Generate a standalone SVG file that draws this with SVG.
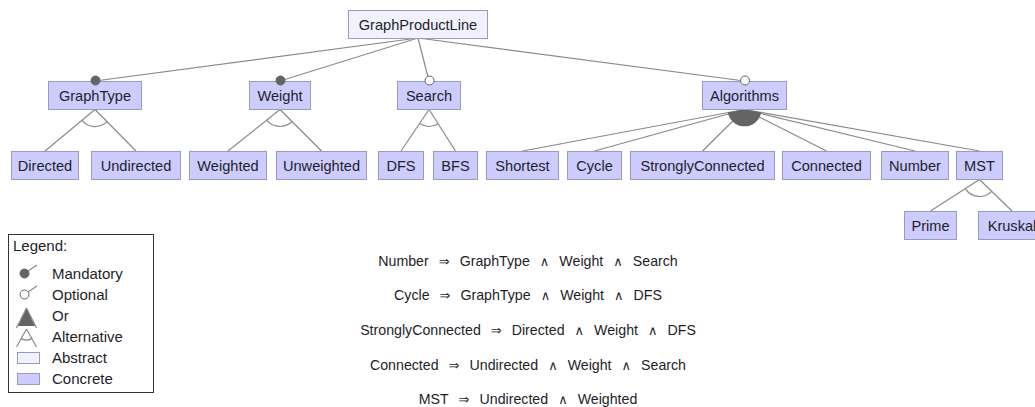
<svg xmlns="http://www.w3.org/2000/svg" width="1035" height="407" viewBox="0 0 1035 407">
  <style>
    text { font-family: "Liberation Sans", Arial, sans-serif; fill: #1e1e2a; }
    .label { font-size: 14.6px; text-anchor: middle; }
    .legend { font-size: 15px; }
    .rule { font-size: 14.2px; text-anchor: middle; }
    .op { font-size: 13px; font-family: "DejaVu Sans", sans-serif; }
    .concrete { fill: #ccccff; stroke: #9a9ac0; stroke-width: 1; }
    .abstract { fill: #f1f1ff; stroke: #9a9ac0; stroke-width: 1; }
    .edge { stroke: #8a8a8a; stroke-width: 1.2; fill: none; }
    .arc { stroke: #8a8a8a; stroke-width: 1.2; fill: none; }
    .mand { fill: #646464; stroke: #646464; stroke-width: 1; }
    .opt { fill: #ffffff; stroke: #646464; stroke-width: 1; }
    .orfill { fill: #646464; stroke: none; }
  </style>

  <!-- connectors -->
  <g id="connectors">
    <!-- root to first level -->
    <line class="edge" x1="418" y1="38" x2="95" y2="81"/>
    <line class="edge" x1="418" y1="38" x2="280" y2="81"/>
    <line class="edge" x1="418" y1="38" x2="429" y2="81"/>
    <line class="edge" x1="418" y1="38" x2="744.5" y2="81"/>
    <!-- GraphType alternative -->
    <line class="edge" x1="95" y1="109.5" x2="45" y2="151"/>
    <line class="edge" x1="95" y1="109.5" x2="136" y2="151"/>
    <path class="arc" d="M81.9,120.4 A17,17 0 0 0 107,121.6"/>
    <!-- Weight alternative -->
    <line class="edge" x1="280" y1="109.5" x2="228" y2="151"/>
    <line class="edge" x1="280" y1="109.5" x2="321.5" y2="151"/>
    <path class="arc" d="M266.7,120.1 A17,17 0 0 0 292,121.5"/>
    <!-- Search alternative -->
    <line class="edge" x1="429" y1="109.5" x2="401" y2="151"/>
    <line class="edge" x1="429" y1="109.5" x2="455.5" y2="151"/>
    <path class="arc" d="M419.5,123.6 A17,17 0 0 0 438.2,123.8"/>
    <!-- Algorithms or-group -->
    <line class="edge" x1="744.5" y1="109.5" x2="522.5" y2="151"/>
    <line class="edge" x1="744.5" y1="109.5" x2="594.5" y2="151"/>
    <line class="edge" x1="744.5" y1="109.5" x2="702.5" y2="151"/>
    <line class="edge" x1="744.5" y1="109.5" x2="826.5" y2="151"/>
    <line class="edge" x1="744.5" y1="109.5" x2="915" y2="151"/>
    <line class="edge" x1="744.5" y1="109.5" x2="979.5" y2="151"/>
    <path class="orfill" d="M744.5,109.5 L727.8,112.6 A17,17 0 0 0 761.2,112.5 Z"/>
    <!-- MST alternative -->
    <line class="edge" x1="979.5" y1="179.5" x2="930.5" y2="211"/>
    <line class="edge" x1="979.5" y1="179.5" x2="1012" y2="211"/>
    <path class="arc" d="M965.2,188.7 A17,17 0 0 0 991.7,191.3"/>
  </g>

  <!-- root -->
  <g id="GraphProductLine">
    <rect class="abstract" x="348.5" y="10.5" width="139" height="28"/>
    <text class="label" x="418" y="29.5">GraphProductLine</text>
  </g>

  <!-- first level -->
  <g id="GraphType">
    <rect class="concrete" x="48.5" y="81.5" width="93" height="28"/>
    <text class="label" x="95" y="100.5">GraphType</text>
    <circle class="mand" cx="95.5" cy="80.5" r="4.5"/>
  </g>
  <g id="Weight">
    <rect class="concrete" x="249.5" y="81.5" width="61" height="28"/>
    <text class="label" x="280" y="100.5">Weight</text>
    <circle class="mand" cx="280.5" cy="80.5" r="4.5"/>
  </g>
  <g id="Search">
    <rect class="concrete" x="397.5" y="81.5" width="63" height="28"/>
    <text class="label" x="429" y="100.5">Search</text>
    <circle class="opt" cx="429.5" cy="80.5" r="4.5"/>
  </g>
  <g id="Algorithms">
    <rect class="concrete" x="702.5" y="81.5" width="84" height="28"/>
    <text class="label" x="744.5" y="100.5">Algorithms</text>
    <circle class="opt" cx="745" cy="80.5" r="4.5"/>
  </g>

  <!-- second level -->
  <g id="Directed">
    <rect class="concrete" x="11.5" y="151.5" width="67" height="28"/>
    <text class="label" x="45" y="170.5">Directed</text>
  </g>
  <g id="Undirected">
    <rect class="concrete" x="91.5" y="151.5" width="89" height="28"/>
    <text class="label" x="136" y="170.5">Undirected</text>
  </g>
  <g id="Weighted">
    <rect class="concrete" x="189.5" y="151.5" width="77" height="28"/>
    <text class="label" x="228" y="170.5">Weighted</text>
  </g>
  <g id="Unweighted">
    <rect class="concrete" x="276.5" y="151.5" width="90" height="28"/>
    <text class="label" x="321.5" y="170.5">Unweighted</text>
  </g>
  <g id="DFS">
    <rect class="concrete" x="378.5" y="151.5" width="45" height="28"/>
    <text class="label" x="401" y="170.5">DFS</text>
  </g>
  <g id="BFS">
    <rect class="concrete" x="433.5" y="151.5" width="44" height="28"/>
    <text class="label" x="455.5" y="170.5">BFS</text>
  </g>
  <g id="Shortest">
    <rect class="concrete" x="486.5" y="151.5" width="72" height="28"/>
    <text class="label" x="522.5" y="170.5">Shortest</text>
  </g>
  <g id="Cycle">
    <rect class="concrete" x="567.5" y="151.5" width="54" height="28"/>
    <text class="label" x="594.5" y="170.5">Cycle</text>
  </g>
  <g id="StronglyConnected">
    <rect class="concrete" x="630.5" y="151.5" width="144" height="28"/>
    <text class="label" x="702.5" y="170.5">StronglyConnected</text>
  </g>
  <g id="Connected">
    <rect class="concrete" x="782.5" y="151.5" width="88" height="28"/>
    <text class="label" x="826.5" y="170.5">Connected</text>
  </g>
  <g id="Number">
    <rect class="concrete" x="881.5" y="151.5" width="67" height="28"/>
    <text class="label" x="915" y="170.5">Number</text>
  </g>
  <g id="MST">
    <rect class="concrete" x="956.5" y="151.5" width="46" height="28"/>
    <text class="label" x="979.5" y="170.5">MST</text>
  </g>

  <!-- third level -->
  <g id="Prime">
    <rect class="concrete" x="904.5" y="211.5" width="52" height="28"/>
    <text class="label" x="930.5" y="230.5">Prime</text>
  </g>
  <g id="Kruskal">
    <rect class="concrete" x="978.5" y="211.5" width="67" height="28"/>
    <text class="label" x="1012" y="230.5">Kruskal</text>
  </g>

  <!-- legend -->
  <g id="legend">
    <rect x="8.5" y="234.5" width="145" height="158" fill="#ffffff" stroke="#333333" stroke-width="1"/>
    <text class="legend" x="13" y="251">Legend:</text>
    <!-- mandatory -->
    <line class="edge" x1="25" y1="273" x2="37" y2="265"/>
    <circle class="mand" cx="24.5" cy="273.5" r="4.5"/>
    <text class="legend" x="52" y="279">Mandatory</text>
    <!-- optional -->
    <line class="edge" x1="25" y1="294" x2="37" y2="286"/>
    <circle class="opt" cx="24.5" cy="294.5" r="4.5"/>
    <text class="legend" x="52" y="300">Optional</text>
    <!-- or -->
    <path class="orfill" d="M26.5,308 L18,326 L35,326 Z"/>
    <line class="edge" x1="26.5" y1="308" x2="16.5" y2="328"/>
    <line class="edge" x1="26.5" y1="308" x2="36.5" y2="328"/>
    <text class="legend" x="52" y="321">Or</text>
    <!-- alternative -->
    <line class="edge" x1="26.5" y1="329" x2="16.5" y2="347"/>
    <line class="edge" x1="26.5" y1="329" x2="36.5" y2="347"/>
    <path class="arc" d="M21.2,338.6 A11,11 0 0 0 31.8,338.6"/>
    <text class="legend" x="52" y="342">Alternative</text>
    <!-- abstract / concrete -->
    <rect class="abstract" x="17.5" y="352.5" width="22" height="11"/>
    <text class="legend" x="52" y="363">Abstract</text>
    <rect class="concrete" x="17.5" y="373.5" width="22" height="11"/>
    <text class="legend" x="52" y="384">Concrete</text>
  </g>

  <!-- cross-tree constraints -->
  <g id="constraints">
    <text class="rule" x="528" y="266">Number<tspan class="op" dx="10">⇒</tspan><tspan dx="10">GraphType</tspan><tspan class="op" dx="10">∧</tspan><tspan dx="10">Weight</tspan><tspan class="op" dx="10">∧</tspan><tspan dx="10">Search</tspan></text>
    <text class="rule" x="528" y="300">Cycle<tspan class="op" dx="10">⇒</tspan><tspan dx="10">GraphType</tspan><tspan class="op" dx="10">∧</tspan><tspan dx="10">Weight</tspan><tspan class="op" dx="10">∧</tspan><tspan dx="10">DFS</tspan></text>
    <text class="rule" x="528" y="335">StronglyConnected<tspan class="op" dx="10">⇒</tspan><tspan dx="10">Directed</tspan><tspan class="op" dx="10">∧</tspan><tspan dx="10">Weight</tspan><tspan class="op" dx="10">∧</tspan><tspan dx="10">DFS</tspan></text>
    <text class="rule" x="528" y="370">Connected<tspan class="op" dx="10">⇒</tspan><tspan dx="10">Undirected</tspan><tspan class="op" dx="10">∧</tspan><tspan dx="10">Weight</tspan><tspan class="op" dx="10">∧</tspan><tspan dx="10">Search</tspan></text>
    <text class="rule" x="528" y="404">MST<tspan class="op" dx="10">⇒</tspan><tspan dx="10">Undirected</tspan><tspan class="op" dx="10">∧</tspan><tspan dx="10">Weighted</tspan></text>
  </g>
</svg>
